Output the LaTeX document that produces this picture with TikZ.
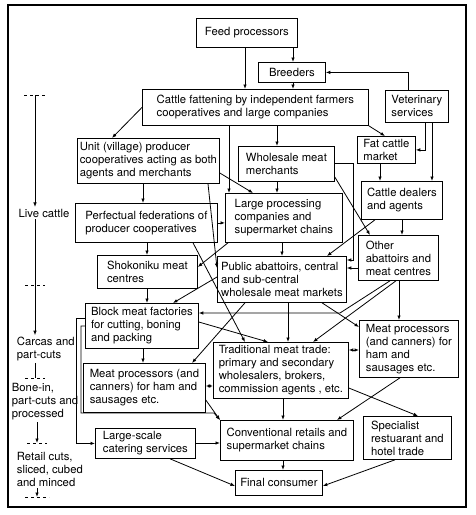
\documentclass[tikz,border=0pt]{standalone}
\usepackage{fontspec}
\setmainfont{TeX Gyre Heros}
\usetikzlibrary{arrows.meta}
\newcommand\flowfont{\fontsize{11.3}{13}\selectfont}
\tikzset{
	box/.style={draw, line width=0.8pt, anchor=north west, inner sep=2pt, align=left, font=\flowfont},
	stagelbl/.style={inner sep=1.5pt, align=left, font=\flowfont},
	stagemark/.style={line width=0.7pt, dash pattern=on 3pt off 3pt},
}
\begin{document}
\begin{tikzpicture}[x=1pt, y=-1pt, line width=0.8pt, >={Latex[length=4.5pt,width=3.5pt]}]
	\useasboundingbox (0,0) rectangle (475,515);
	\draw[line width=1.1pt] (8,5) rectangle (466,507);

	\node[box, minimum width=101pt, minimum height=29pt] (feed) at (196,18) {Feed processors};
	\node[box, minimum width=67pt, minimum height=20pt] (breed) at (258,62) {Breeders};
	\node[box, minimum width=226pt, minimum height=36pt] (fatten) at (142,89) {Cattle fattening by independent farmers\\cooperatives and large companies};
	\node[box, minimum width=63pt, minimum height=32pt] (vet) at (385,90) {Veterinary\\services};
	\node[box, minimum width=142pt, minimum height=45pt] (unit) at (77,138) {Unit (village) producer\\cooperatives acting as both\\agents and merchants};
	\node[box, minimum width=96pt, minimum height=35pt] (whole) at (238,146) {Wholesale meat\\merchants};
	\node[box, minimum width=58pt, minimum height=27pt] (fatmkt) at (357,136) {Fat cattle\\market};
	\node[box, minimum width=81pt, minimum height=38pt] (dealer) at (361,181) {Cattle dealers\\and agents};
	\node[box, minimum width=117pt, minimum height=49pt] (large) at (225,193) {Large processing\\companies and\\supermarket chains};
	\node[box, minimum width=142pt, minimum height=39pt] (perf) at (75,203) {Perfectual federations of\\producer cooperatives};
	\node[box, minimum width=80pt, minimum height=45pt] (other) at (358,235) {Other\\abattoirs and\\meat centres};
	\node[box, minimum width=100pt, minimum height=33pt] (shok) at (97,255) {Shokoniku meat\\centres};
	\node[box, minimum width=129pt, minimum height=46pt] (pub) at (217,256) {Public abattoirs, central\\and sub-central\\wholesale meat markets};
	\node[box, minimum width=113pt, minimum height=45pt] (block) at (85,303) {Block meat factories\\for cutting, boning\\and packing};
	\node[box, minimum width=135pt, minimum height=56pt] (trad) at (213,342) {Traditional meat trade:\\primary and secondary\\wholesalers, brokers,\\commission agents , etc.};
	\node[box, minimum width=99pt, minimum height=57pt] (mpr) at (359,320) {Meat processors\\(and canners) for\\ham and\\sausages etc.};
	\node[box, minimum width=122pt, minimum height=49pt] (mpl) at (83,363) {Meat processors (and\\canners) for ham and\\sausages etc.};
	\node[box, minimum width=133pt, minimum height=40pt] (conv) at (220,420) {Conventional retails and\\supermarket chains};
	\node[box, minimum width=88pt, minimum height=43pt] (spec) at (363,416) {Specialist\\restuarant and\\hotel trade};
	\node[box, minimum width=100pt, minimum height=30pt] (cater) at (95,428) {Large-scale\\catering services};
	\node[box, minimum width=87pt, minimum height=25pt] (final) at (235,470) {Final consumer};

	\node[stagelbl] (live) at (44,213) {Live cattle};
	\node[stagelbl, anchor=west] (carc) at (15,349) {Carcas and\\part-cuts};
	\node[stagelbl, anchor=west] (bone) at (10,402) {Bone-in,\\part-cuts and\\processed};
	\node[stagelbl, anchor=west] (retail) at (15,469) {Retail cuts,\\sliced, cubed\\and minced};
	\coordinate (t1) at (35,95);
	\coordinate (t2) at (35,285);
	\coordinate (t3) at (35,378);
	\coordinate (t4) at (37,443);
	\coordinate (t5) at (37,497);
	\draw[stagemark] ([xshift=-11pt]t1) -- ([xshift=11pt]t1);
	\draw[stagemark] ([xshift=-10pt]t2) -- ([xshift=10pt]t2);
	\draw[stagemark] ([xshift=-10pt]t3) -- ([xshift=10pt]t3);
	\draw[stagemark] ([xshift=-10pt]t4) -- ([xshift=10pt]t4);
	\draw[stagemark] ([xshift=-12pt]t5) -- ([xshift=12pt]t5);
	\draw[->] (t1) -- (live.north -| t1);
	\draw[->] (live.south -| t1) -- (carc.north -| t1);
	\draw (carc.south -| t3) -- (t3);
	\draw[->] (bone.south -| t4) -- (t4);
	\draw[->] (retail.south -| t5) -- (t5);

	\draw[->] (feed.south -| 245,0) -- (fatten.north -| 245,0);
	\draw[->] (feed.south -| 293,0) -- (breed.north -| 293,0);
	\draw[->] (breed.south -| 293,0) -- (fatten.north -| 293,0);
	\draw[->] (vet.north -| 408,0) |- (breed.east);
	\draw[->] (vet.south -| 425,0) |- (fatmkt.east);
	\draw[->] (vet.south -| 432,0) -- (dealer.north -| 432,0);
	\draw[->] (fatten.south east) -- (fatmkt.north -| 385,0);
	\draw[->] (fatten.west) -- (unit.north -| 112,0);
	\draw[->] (fatten.south -| 229,0) -- (large.north -| 229,0);
	\draw[->] (fatten.south -| 277,0) -- (whole.north -| 277,0);
	\draw[->] (unit.south -| 143,0) -- (perf.north -| 143,0);
	\draw[->] (unit.east |- 0,173) -- (large.north -| 253,0);
	\draw[->] (unit.south -| 208,0) -- (pub.west |- 0,268);
	\draw[->] (perf.east) -- (large.west |- perf.east);
	\draw[->] (perf.south -| 147,0) -- (shok.north -| 147,0);
	\draw[->] (perf.south -| 193,0) -- (trad.north -| 245,0);
	\draw[->] (large.south -| 228,0) -- (shok.east |- 0,267);
	\draw[->] (large.south -| 282,0) -- (pub.north -| 282,0);
	\draw[->] (whole.south -| 277,0) -- (large.north -| 277,0);
	\coordinate (wbend) at (353,163);
	\draw[->] (whole.east |- wbend) -- (wbend) |- (pub.east |- 0,260);
	\draw[->] (whole.east |- 0,177) -- (other.north -| 370,0);
	\draw[->] (fatmkt.south -| 380,0) -- (dealer.north -| 380,0);
	\draw[->] (dealer.south -| 402,0) -- (other.north -| 402,0);
	\draw[->] (dealer.south -| 375,0) -- (pub.north -| 327,0);
	\draw[->] (other.west |- 0,268) -- (pub.east |- 0,268);
	\draw[->] (other.south -| 399,0) -- (mpr.north -| 399,0);
	\coordinate (obend) at (340,313);
	\draw[->] (other.south -| 390,0) -- (obend) -- (block.east |- obend);
	\draw[->] (other.south -| 396,0) -- (trad.north -| 313,0);
	\draw[->] (shok.south -| 147,0) -- (block.north -| 147,0);
	\draw[->] (pub.west |- 0,277) -- (block.north -| 173,0);
	\draw[->] (pub.south -| 245,0) -- (mpl.north -| 192,0);
	\draw[->] (pub.south -| 288,0) -- (trad.north -| 288,0);
	\draw[->] (pub.south -| 322,0) -- (mpr.west |- 0,327);
	\draw[->] (block.east |- 0,322) -- (trad.north -| 268,0);
	\draw[->] (block.south -| 143,0) -- (mpl.north -| 143,0);
	\draw[<->] (trad.east |- 0,350) -- (mpr.west |- 0,350);
	\draw[<->] (mpl.east |- 0,386) -- (trad.west |- 0,386);
	\draw[->] (mpl.east |- 0,400) -- (conv.north west);
	\draw[->] (trad.south -| 283,0) -- (conv.north -| 283,0);
	\draw[->] (trad.east |- 0,388) -- (spec.north -| 418,0);
	\draw[->] (mpr.south -| 400,0) -- (conv.north -| 337,0);
	\coordinate (lb1) at (76,318);
	\coordinate (lb2) at (81,326);
	\coordinate (lb3) at (214,413);
	\draw[->] (block.west |- lb1) -- (lb1) |- (cater.west);
	\draw[->] (block.west |- lb2) -- (lb2) |- (lb3) -- (conv.north west);
	\draw[->] (cater.east |- 0,443) -- (conv.west |- 0,443);
	\draw[->] (conv.south -| 283,0) -- (final.north -| 283,0);
	\draw[->] (cater.south -| 170,0) -- (final.west |- 0,486);
	\draw[->] (spec.south -| 395,0) -- (final.east |- 0,486);
\end{tikzpicture}
\end{document}
